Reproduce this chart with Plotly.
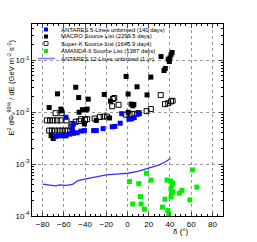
import plotly.graph_objects as go

# ANTARES 5-Lines unbinned (140 days)
ant5_dec = [-67.5, -64.4, -61.3, -58, -54.4, -51, -47.5, -43.8, -40.6, -31.9, -29.4, -23, -14.4, -11.9, -6.9, 1.3, 3.8, 6.3, -5.5, 10.5, -58, -51, -52]
ant5_flux = [0.0034, 0.0035, 0.0035, 0.0035, 0.0038, 0.0039, 0.0040, 0.0043, 0.0044, 0.0044, 0.0044, 0.0048, 0.0052, 0.0053, 0.0061, 0.0073, 0.0074, 0.0078, 0.0093, 0.0093, 0.0079, 0.0059, 0.0049]

# MACRO Source List (2299.5 days)
macro_dec = [-73.8, -72, -70, -62.8, -62, -66, -48.8, -46, -37, -45.6, -42.5, -39.7, -38, -54.4, -52, -40.6, -29.4, -21.9, -16.9, -16, -1.3, 0.6, 3.4, 5, 6, 0.6, 9, 18.4, 22, 31.6, 34.4, 35.6, 38.4, 40, 41, 42, 39.4]
macro_flux = [0.0122, 0.0035, 0.0031, 0.0114, 0.0105, 0.0224, 0.030, 0.019, 0.0177, 0.0099, 0.0111, 0.011, 0.0114, 0.0038, 0.0042, 0.0059, 0.0069, 0.0218, 0.0077, 0.0162, 0.0484, 0.0222, 0.0142, 0.0132, 0.014, 0.0099, 0.0306, 0.0214, 0.047, 0.117, 0.063, 0.069, 0.104, 0.11, 0.127, 0.14, 0.094]

# Super-K Source List (1645.9 days)
superk_dec = [-73.8, -71.3, -68.4, -65, -62, -58.8, -56.3, -76, -73, -70, -66.3, -63.1, -67.8, -62, -57.5, -53, -52, -48.8, -45.6, -43.8, -40, -38, -31, -26, -22.5, -19.4, -13.8, -12.5, -14.4, -8.4, -1.3, 1.9, 4.4, 8.8, 10.6, 18, 22, 31.3, 35.3, 38.4, 41, 42.5]
superk_flux = [0.0044, 0.0044, 0.0044, 0.0044, 0.0044, 0.0044, 0.0044, 0.0069, 0.0069, 0.0069, 0.0069, 0.0069, 0.0095, 0.0095, 0.0069, 0.0052, 0.0059, 0.0065, 0.0067, 0.0073, 0.0071, 0.0073, 0.0075, 0.0080, 0.0082, 0.0082, 0.0178, 0.0186, 0.0129, 0.0138, 0.0089, 0.0090, 0.0092, 0.0093, 0.0095, 0.0104, 0.0114, 0.0212, 0.0142, 0.0148, 0.0160, 0.0165]

# AMANDA-II Source List (1387 days)
amanda_dec = [1.9, 5, 10.6, 12.2, 12.8, 16, 17.8, 22.2, 33, 35.3, 37.2, 38, 38.8, 40.6, 41.9, 41, 42, 41, 42.5, 43, 48.8, 51.3, 58.8, 61.3, 65.3]
amanda_flux = [4.6e-4, 1.7e-4, 4.2e-4, 2.36e-4, 1.7e-4, 1.35e-4, 6.65e-4, 4.9e-4, 1.48e-4, 2.1e-4, 4.9e-4, 1.27e-4, 1.1e-4, 4.7e-4, 4.0e-4, 3.3e-4, 2.8e-4, 2.35e-4, 4.3e-4, 2.9e-4, 2.75e-4, 3.1e-4, 2.04e-4, 7.7e-4, 3.6e-4]

# ANTARES 12-Lines unbinned (1 yr) sensitivity
ant12_dec = [-80, -73, -68, -63.8, -57.5, -51.3, -46.6, -40.3, -29.4, -20, -10.6, 0.3, 9.7, 15, 20.6, 25, 30, 35, 39.4, 40.6]
ant12_flux = [4.1e-4, 3.9e-4, 3.8e-4, 3.97e-4, 3.9e-4, 4.1e-4, 4.8e-4, 5.1e-4, 5.7e-4, 6.2e-4, 6.4e-4, 6.65e-4, 7.2e-4, 7.7e-4, 8.3e-4, 8.9e-4, 9.6e-4, 1.08e-3, 1.22e-3, 1.28e-3]

legend_labels = [
    "ANTARES 5-Lines unbinned (140 days)",
    "MACRO Source List (2299.5 days)",
    "Super-K Source List (1645.9 days)",
    "AMANDA-II Source List (1387 days)",
    "ANTARES 12-Lines unbinned (1 yr)",
]

x_ticks = [-80, -60, -40, -20, 0, 20, 40, 60, 80]
y_ticks = [1e-4, 1e-3, 1e-2, 1e-1]
y_ticktext = ["10<sup>-4</sup>", "10<sup>-3</sup>", "10<sup>-2</sup>", "10<sup>-1</sup>"]

BLUE = "#0000ff"
GREEN = "#00ee00"
LINEBLUE = "#3333ff"
MS = 5

fig = go.Figure()
fig.add_trace(go.Scatter(x=ant12_dec, y=ant12_flux, mode="lines",
                         line=dict(color=LINEBLUE, width=1.3), showlegend=False))
fig.add_trace(go.Scatter(x=superk_dec, y=superk_flux, mode="markers",
                         marker=dict(symbol="square-open", size=MS, color="black",
                                     line=dict(width=1, color="black")), showlegend=False))
fig.add_trace(go.Scatter(x=macro_dec, y=macro_flux, mode="markers",
                         marker=dict(symbol="square", size=MS, color="black", line=dict(width=0)),
                         showlegend=False))
fig.add_trace(go.Scatter(x=ant5_dec, y=ant5_flux, mode="markers",
                         marker=dict(symbol="square", size=MS, color=BLUE, line=dict(width=0)),
                         showlegend=False))
fig.add_trace(go.Scatter(x=amanda_dec, y=amanda_flux, mode="markers",
                         marker=dict(symbol="square", size=MS, color=GREEN, line=dict(width=0)),
                         showlegend=False))

L, R, T, B = 32, 34, 24, 26
W, H = 257, 242
pw, ph = W - L - R, H - T - B


def px(x):
    return (x - L) / pw


def py(y):
    return (H - B - y) / ph


shapes = []
annotations = []
leg_y = [29.5, 36.5, 43.5, 51, 58.5]
sym = [("sq", BLUE), ("sq", "black"), ("open", "black"), ("sq", GREEN), ("line", LINEBLUE)]
for (kind, col), yy, lab in zip(sym, leg_y, legend_labels):
    if kind == "line":
        shapes.append(dict(type="line", xref="paper", yref="paper",
                           x0=px(38), x1=px(55), y0=py(yy), y1=py(yy),
                           line=dict(color="#7777ff", width=1.5)))
    else:
        shapes.append(dict(type="rect", xref="paper", yref="paper",
                           x0=px(44), x1=px(48), y0=py(yy + 2), y1=py(yy - 2),
                           fillcolor="white" if kind == "open" else col,
                           line=dict(color=col, width=0.8 if kind == "open" else 0)))
    annotations.append(dict(text=lab, xref="paper", yref="paper", x=px(59), y=py(yy),
                            xanchor="left", yanchor="middle", showarrow=False,
                            font=dict(size=5.9, color="black", family="Liberation Sans")))

annotations.append(dict(text="E<sup>2</sup> dΦ<sub>ν</sub><sup>90%</sup> / dE (GeV m<sup>-2</sup> s<sup>-1</sup>)",
                        xref="paper", yref="paper", x=px(10.5), y=py(88),
                        xanchor="center", yanchor="middle", textangle=-90, showarrow=False,
                        font=dict(size=7.6, color="black", family="Liberation Sans")))
annotations.append(dict(text="δ (°)", xref="paper", yref="paper", x=px(191), y=py(231),
                        xanchor="right", yanchor="middle", showarrow=False,
                        font=dict(size=8, color="black", family="Liberation Sans")))

fig.update_layout(
    width=W, height=H,
    margin=dict(l=L, r=R, t=T, b=B),
    paper_bgcolor="white", plot_bgcolor="white",
    font=dict(family="Liberation Sans", size=8, color="black"),
    shapes=shapes, annotations=annotations,
    showlegend=False,
)
fig.update_xaxes(range=[-90, 90], tickvals=x_ticks, ticks="inside", ticklen=4,
                 showline=True, linecolor="black", linewidth=1, mirror="allticks",
                 showgrid=True, gridcolor="#999999", griddash="dot", gridwidth=1,
                 zeroline=False, tickfont=dict(size=8),
                 minor=dict(ticks="inside", ticklen=2, dtick=5, showgrid=False, tickcolor="black"))
fig.update_yaxes(type="log", range=[-4, -0.306], tickvals=y_ticks, ticktext=y_ticktext,
                 ticks="inside", ticklen=4, showline=True, linecolor="black", linewidth=1,
                 mirror="allticks", showgrid=True, gridcolor="#999999", griddash="dot",
                 gridwidth=1, zeroline=False, tickfont=dict(size=8),
                 minor=dict(ticks="inside", ticklen=2, dtick="D1", showgrid=False, tickcolor="black"))

fig.write_html("out.html", config={"displayModeBar": False},
               post_script="document.body.style.margin='0';document.body.style.overflow='hidden';")
